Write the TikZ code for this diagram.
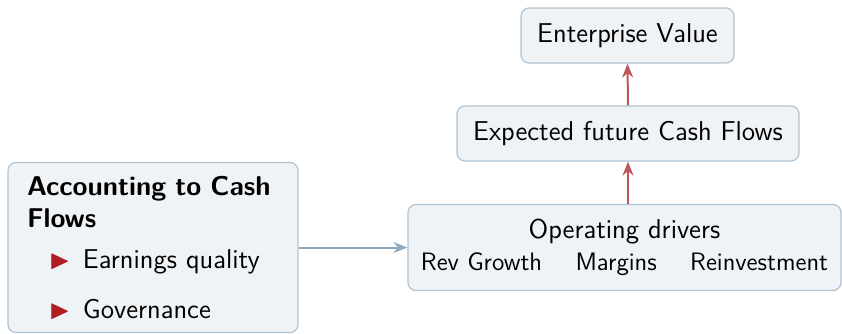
\documentclass[tikz,border=0pt]{standalone}
\usepackage{amssymb}
\usepackage{tikz}
\usetikzlibrary{arrows.meta}
\definecolor{boxfill}{HTML}{F0F3F6}
\definecolor{boxline}{HTML}{AFC3D3}
\definecolor{flowred}{HTML}{C0555A}
\definecolor{linkblue}{HTML}{8EAAC0}
\definecolor{bulletred}{HTML}{B01E23}
\newcommand{\bulletitem}{\hspace*{11pt}\makebox[17pt][l]{\textcolor{bulletred}{$\blacktriangleright$}}}

\begin{document}
\begin{tikzpicture}[
  x=0.5pt, y=-0.5pt,
  box/.style={draw=boxline, fill=boxfill, line width=0.6pt, rounded corners=4pt, align=center,
    font=\sffamily\fontsize{13.6}{16}\selectfont},
  arrow/.style={-{Stealth[length=7pt,width=5.5pt]}, line width=1pt}
]
  \useasboundingbox (0,0) rectangle (842,333);

  % Accounting side
  \node[box, align=left, text width=126pt, inner xsep=9.5pt, minimum height=85pt] (acc) at (153,247.5)
    {\parbox[b]{124pt}{\bfseries Accounting to Cash Flows}\\[4.5pt]
     \bulletitem Earnings quality\\[9pt]
     \bulletitem Governance};

  % Value chain
  \node[box, minimum width=216.5pt, minimum height=43pt] (op) at (624.5,247.5)
    {Operating drivers\\[0pt]{\fontsize{12.6}{15}\selectfont Rev Growth \quad Margins \quad Reinvestment}};
  \node[box, minimum width=171pt, minimum height=27.5pt] (cf) at (628,133.5) {Expected future Cash Flows};
  \node[box, minimum width=106.5pt, minimum height=27.5pt] (ev) at (627.5,35.5) {Enterprise Value};

  % Connections
  \draw[arrow, linkblue] (acc.east) -- (op.west);
  \draw[arrow, flowred] (op.north -| cf.south) -- (cf.south);
  \draw[arrow, flowred] (cf.north) -- (ev.south);
\end{tikzpicture}
\end{document}
